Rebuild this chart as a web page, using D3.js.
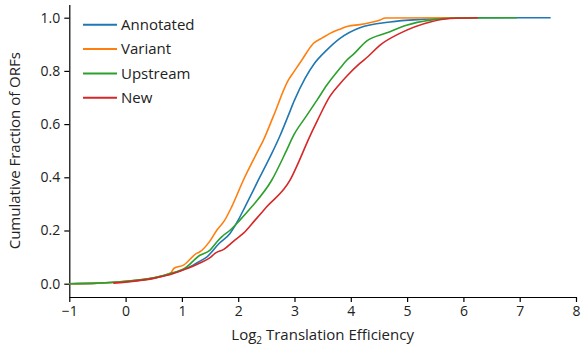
<!DOCTYPE html>
<html>
<head>
<meta charset="utf-8">
<script src="https://cdn.jsdelivr.net/npm/d3@7"></script>
<style>
  body { margin: 0; background: #fff; }
  svg { display: block; }
  text { font-family: "Open Sans", "Noto Sans", sans-serif; fill: #222; }
</style>
</head>
<body>
<svg id="chart" width="581" height="349"></svg>
<script>
// ---- Data ----
const seriesNames = ["Annotated", "Variant", "Upstream", "New"];
const seriesColors = ["#1f77b4", "#ff7f0e", "#2ca02c", "#d62728"];

// ECDF points: [log2 translation efficiency, cumulative fraction]
const annotated = [
  [-1.0, 0.0], [-0.5, 0.002], [0.0, 0.008], [0.5, 0.021], [0.85, 0.04], [1.03, 0.053],
  [1.2, 0.07], [1.32, 0.085], [1.44, 0.10], [1.66, 0.151], [1.854, 0.189], [2.0, 0.239],
  [2.121, 0.289], [2.357, 0.389], [2.62, 0.50], [2.75, 0.56], [2.88, 0.627],
  [3.0, 0.69], [3.187, 0.772], [3.35, 0.827], [3.572, 0.878], [3.808, 0.922],
  [4.16, 0.962], [4.7, 0.984], [5.29, 0.994], [6.06, 1.0], [7.55, 1.0]
];
const variant = [
  [-1.0, 0.0], [-0.5, 0.002], [0.0, 0.009], [0.5, 0.022], [0.8, 0.04], [0.86, 0.058],
  [1.03, 0.07], [1.26, 0.114], [1.32, 0.12], [1.5, 0.161], [1.62, 0.201], [1.75, 0.235],
  [1.884, 0.289], [2.091, 0.389], [2.357, 0.502], [2.446, 0.539], [2.62, 0.627],
  [2.89, 0.765], [3.0, 0.80], [3.128, 0.84], [3.334, 0.903], [3.5, 0.925], [3.631, 0.941],
  [3.808, 0.957], [3.95, 0.968], [4.16, 0.974], [4.35, 0.982], [4.52, 0.991],
  [4.61, 0.999], [6.2, 1.0]
];
const upstream = [
  [-1.0, 0.0], [-0.5, 0.002], [0.0, 0.009], [0.5, 0.022], [0.85, 0.042], [1.03, 0.055],
  [1.32, 0.107], [1.5, 0.126], [1.62, 0.157], [1.707, 0.176], [1.85, 0.20], [2.03, 0.239],
  [2.24, 0.289], [2.595, 0.389], [2.861, 0.502], [2.99, 0.56], [3.2, 0.627],
  [3.4, 0.69], [3.572, 0.746], [3.808, 0.81], [3.927, 0.84], [4.045, 0.862],
  [4.28, 0.912], [4.64, 0.943], [4.99, 0.972], [5.41, 0.991], [5.88, 0.999], [6.95, 1.0]
];
const newOrfs = [
  [-0.22, 0.002], [0.0, 0.006], [0.5, 0.02], [0.85, 0.038], [1.03, 0.052], [1.32, 0.078],
  [1.5, 0.098], [1.588, 0.114], [1.75, 0.13], [1.94, 0.164], [2.09, 0.189], [2.3, 0.239],
  [2.506, 0.289], [2.92, 0.389], [3.1, 0.47], [3.24, 0.539], [3.41, 0.615],
  [3.631, 0.705], [3.808, 0.752], [3.927, 0.78], [4.16, 0.828], [4.311, 0.855],
  [4.52, 0.897], [4.87, 0.941], [5.41, 0.984], [5.76, 0.997], [6.26, 1.0]
];
const seriesData = [annotated, variant, upstream, newOrfs];

const xTicks = [-1, 0, 1, 2, 3, 4, 5, 6, 7, 8];
const yTicks = [0.0, 0.2, 0.4, 0.6, 0.8, 1.0];
const xLabel = "Log";
const xLabelSub = "2";
const xLabelRest = " Translation Efficiency";
const yLabel = "Cumulative Fraction of ORFs";

// ---- Layout ----
const svg = d3.select("#chart");
const mLeft = 69.3, mRight = 576, mBottom = 297, mTop = 4.4;

const x = d3.scaleLinear().domain([-1, 8]).range([mLeft, mRight]);
const y = d3.scaleLinear().domain([-0.05, 1.05]).range([mBottom, mTop]);

// Axes
const xAxis = d3.axisBottom(x).tickValues(xTicks).tickFormat(d3.format("d"))
  .tickSizeInner(5).tickSizeOuter(0).tickPadding(4);
const yAxis = d3.axisLeft(y).tickValues(yTicks).tickFormat(d3.format(".1f"))
  .tickSizeInner(5).tickSizeOuter(0).tickPadding(4);

const gx = svg.append("g").attr("transform", `translate(0,${mBottom})`).call(xAxis);
const gy = svg.append("g").attr("transform", `translate(${mLeft},0)`).call(yAxis);
[gx, gy].forEach(g => {
  g.selectAll("path.domain").attr("stroke", "#000").attr("stroke-width", 1.2);
  g.selectAll(".tick line").attr("stroke", "#000").attr("stroke-width", 1.2);
  g.selectAll(".tick text").style("font-size", "14px")
    .style("font-family", '"Open Sans", "Noto Sans", sans-serif').attr("fill", "#222");
});

// Lines
const line = d3.line().x(d => x(d[0])).y(d => y(d[1])).curve(d3.curveMonotoneX);
svg.append("g").selectAll("path.series")
  .data(seriesData)
  .join("path")
  .attr("class", "series")
  .attr("fill", "none")
  .attr("stroke", (d, i) => seriesColors[i])
  .attr("stroke-width", 1.6)
  .attr("d", line);

// Axis labels
const xl = svg.append("text")
  .attr("x", (mLeft + mRight) / 2)
  .attr("y", 340)
  .attr("text-anchor", "middle")
  .style("font-size", "15px");
xl.append("tspan").text(xLabel);
xl.append("tspan").text(xLabelSub).attr("dy", 4).style("font-size", "10px");
xl.append("tspan").text(xLabelRest).attr("dy", -4);

svg.append("text")
  .attr("transform", `translate(20,${(mTop + mBottom) / 2}) rotate(-90)`)
  .attr("text-anchor", "middle")
  .style("font-size", "15px")
  .text(yLabel);

// Legend
const legend = svg.append("g");
seriesNames.forEach((name, i) => {
  const ly = 24.7 + i * 24.35;
  legend.append("line")
    .attr("x1", 83).attr("x2", 117).attr("y1", ly).attr("y2", ly)
    .attr("stroke", seriesColors[i]).attr("stroke-width", 2);
  legend.append("text")
    .attr("x", 121).attr("y", ly).attr("dy", "0.35em")
    .style("font-size", "15px")
    .text(name);
});
</script>
</body>
</html>
